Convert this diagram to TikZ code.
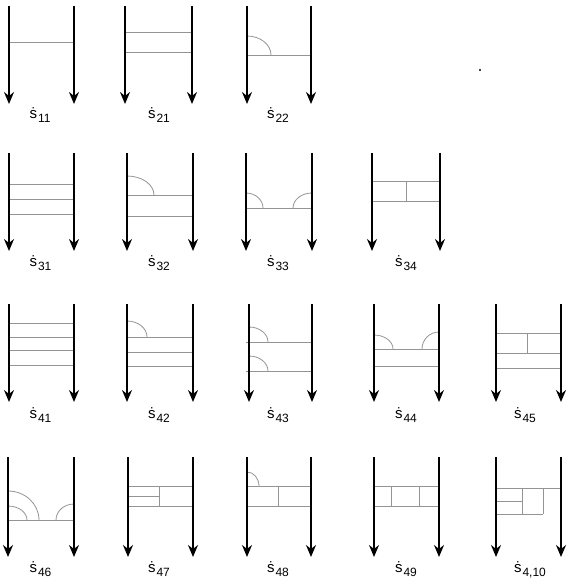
\documentclass[tikz,border=0pt]{standalone}
\usepackage{fontspec}
\setmainfont{Liberation Sans}
\usetikzlibrary{arrows.meta}
\newcommand\slab[1]{\fontsize{15}{15}\selectfont\.{s}\kern0.8pt\raisebox{-4pt}{\fontsize{12}{12}\selectfont #1}}
\newcommand\rails[5]{%
  \coordinate (#1lt) at (#2,#4); \coordinate (#1lb) at (#2,#5);
  \coordinate (#1rt) at (#3,#4); \coordinate (#1rb) at (#3,#5);
  \draw[rail] (#1lt) -- (#1lb); \draw[rail] (#1rt) -- (#1rb);}
\newcommand\rung[3]{\draw[rung] (#1,#3) -- (#2,#3);}
\newcommand\vrung[3]{\draw[rung] (#1,#2) -- (#1,#3);}
\newcommand\arcL[4]{\draw[rung] (#1,{#2-#4}) .. controls ({#1+0.552*#3},{#2-#4}) and ({#1+#3},{#2-0.552*#4}) .. ({#1+#3},#2);}
\newcommand\arcR[4]{\draw[rung] (#1,{#2-#4}) .. controls ({#1-0.552*#3},{#2-#4}) and ({#1-#3},{#2-0.552*#4}) .. ({#1-#3},#2);}
\begin{document}
\begin{tikzpicture}[x=1pt,y=-1pt,
  rail/.style={line width=1.7pt, -{Stealth[length=12pt,width=10pt,inset=4pt]}},
  rung/.style={line width=0.8pt, draw=black!42},
  lab/.style={inner sep=0pt, anchor=base west}]
\useasboundingbox (0,0) rectangle (571,588);
% ---------- row 1
\rung{9}{74}{42}
\rails{d11}{9}{74}{6}{104}
\rung{125}{192}{32}\rung{125}{192}{52}
\rails{d21}{125}{192}{6}{104}
\rung{247}{311}{55}\arcL{247}{55}{24}{19}
\rails{d22}{247}{311}{6}{104}
\node[lab] (l11) at (29.5,119) {\slab{11}};
\node[lab] (l21) at (148,119) {\slab{21}};
\node[lab] (l22) at (267,119) {\slab{22}};
\fill (480,70) circle (1.1);
% ---------- row 2
\rung{9}{74}{184}\rung{9}{74}{199}\rung{9}{74}{214}
\rails{d31}{9}{74}{153}{251}
\rung{127}{193}{195}\rung{127}{193}{216}\arcL{127}{195}{27}{19}
\rails{d32}{127}{193}{153}{251}
\rung{246}{312}{208}\arcL{246}{208}{17}{15}\arcR{312}{208}{19}{15}
\rails{d33}{246}{312}{153}{251}
\rung{372}{440}{181}\rung{372}{440}{201}\vrung{406}{181}{201}
\rails{d34}{372}{440}{153}{251}
\node[lab] (l31) at (29.5,266) {\slab{31}};
\node[lab] (l32) at (148,266) {\slab{32}};
\node[lab] (l33) at (267,266) {\slab{33}};
\node[lab] (l34) at (395,266) {\slab{34}};
% ---------- row 3
\rung{9}{74}{323}\rung{9}{74}{337}\rung{9}{74}{350}\rung{9}{74}{365}
\rails{d41}{9}{74}{304}{402}
\rung{127}{193}{337}\rung{127}{193}{352}\rung{127}{193}{366}\arcL{127}{337}{20}{16}
\rails{d42}{127}{193}{304}{402}
\rung{246}{312}{342}\rung{246}{312}{371}\arcL{249}{342}{19}{15}\arcL{249}{371}{19}{15}
\rails{d43}{249}{312}{304}{402}
\rung{374}{439}{349}\rung{374}{439}{366}\arcL{374}{349}{19}{14}\arcR{439}{349}{17}{17}
\rails{d44}{374}{439}{304}{402}
\rung{496}{561}{333}\rung{496}{561}{353}\rung{496}{561}{368}\vrung{527}{333}{353}
\rails{d45}{496}{561}{304}{402}
\node[lab] (l41) at (29.5,418) {\slab{41}};
\node[lab] (l42) at (148,418) {\slab{42}};
\node[lab] (l43) at (267,418) {\slab{43}};
\node[lab] (l44) at (395,418) {\slab{44}};
\node[lab] (l45) at (514,418) {\slab{45}};
% ---------- row 4
\rung{8}{74}{520}\arcL{8}{520}{31}{29}\arcL{8}{520}{19}{14}\arcR{74}{520}{18}{16}
\rails{d46}{8}{74}{457}{557}
\rung{128}{193}{486}\rung{128}{193}{506}\vrung{159}{486}{506}\rung{128}{159}{496}
\rails{d47}{128}{193}{457}{557}
\rung{247}{311}{486}\rung{247}{311}{506}\vrung{278}{486}{506}\arcL{247}{486}{12}{14}
\rails{d48}{247}{311}{457}{557}
\rung{374}{439}{486}\rung{374}{439}{506}\vrung{391}{486}{506}\vrung{419}{486}{506}
\rails{d49}{374}{439}{457}{557}
\rung{496}{561}{488}\vrung{522}{488}{514}\vrung{543}{488}{514}\rung{496}{522}{501}\rung{496}{543}{514}
\rails{d410}{496}{561}{457}{557}
\node[lab] (l46) at (29.5,572) {\slab{46}};
\node[lab] (l47) at (148,572) {\slab{47}};
\node[lab] (l48) at (267,572) {\slab{48}};
\node[lab] (l49) at (395,572) {\slab{49}};
\node[lab] (l410) at (514,572) {\slab{4,10}};
\end{tikzpicture}
\end{document}
